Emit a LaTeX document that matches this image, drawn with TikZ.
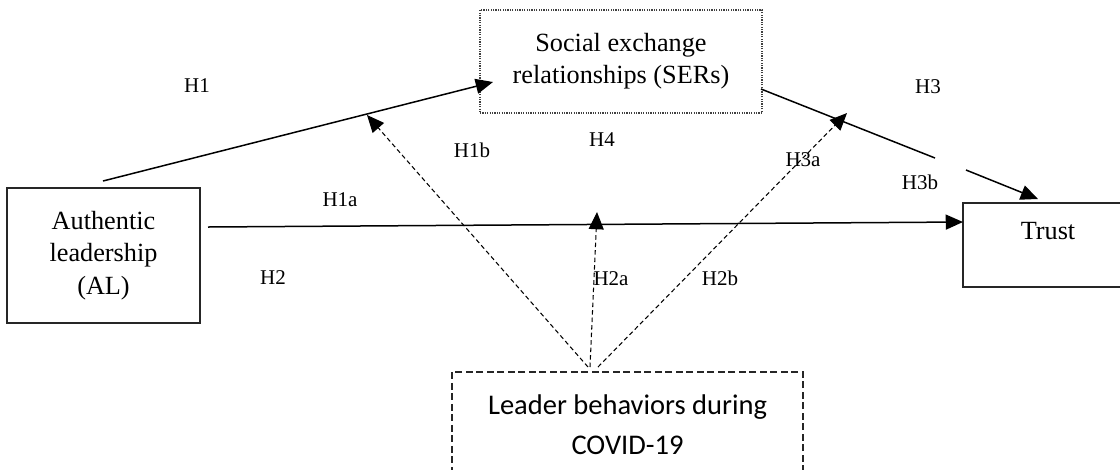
\documentclass[tikz,border=0pt]{standalone}
\usepackage{fontspec}
\setmainfont{Liberation Serif}
\newfontfamily\calibri{Carlito}
\usetikzlibrary{arrows.meta}

\begin{document}
\begin{tikzpicture}[
	x=0.6667pt, y=-0.6667pt,
	box/.style={rectangle, draw=black!85, line width=1pt, align=center, inner sep=0pt, font=\fontsize{17.5}{21.5}\selectfont},
	dotbox/.style={box, draw=black!75, line width=0.8pt, dash pattern=on 0.8pt off 0.8pt},
	dashbox/.style={box, dash pattern=on 4.5pt off 2.5pt, font=\calibri\fontsize{19}{26.7}\selectfont},
	hyp/.style={font=\fontsize{14}{16}\selectfont, inner sep=0pt},
	link/.style={line width=1pt, -{Triangle[length=11.5pt,width=10pt]}},
	moderate/.style={link, line width=0.7pt, dash pattern=on 3pt off 2pt},
	]
	\path[use as bounding box, clip] (0,0) rectangle (1120,469);
	
	\node [dotbox, minimum width=188pt, minimum height=68.7pt] (ser) at (621,61.5) {Social exchange\\relationships (SERs)};
	\node [box, minimum width=128.7pt, minimum height=90pt] (al) at (103.5,255.5) {Authentic\\leadership\\(AL)};
	\node [box, minimum width=113.3pt, text height=24pt, text depth=32pt] (trust) at (1048,245) {Trust};
	\node [dashbox, minimum width=234pt, minimum height=70.7pt] (leader) at (627.5,425) {Leader behaviors during\\COVID-19};
	
	\coordinate (h1s) at (103,181);
	\coordinate (h1e) at (493,82);
	\coordinate (h1as) at (208,227);
	\coordinate (h1ae) at (963,222);
	\coordinate (h3s) at (761,89);
	\coordinate (h3m) at (935,158);
	\coordinate (h3n) at (966,170);
	\coordinate (h3e) at (1038,199);
	\coordinate (ld1) at (588,367);
	\coordinate (ld2) at (590,367);
	\coordinate (ld3) at (598,367);
	\coordinate (h1bt) at (367,115);
	\coordinate (h2at) at (597,212);
	\coordinate (h3at) at (847,113);
	
	\draw [link] (h1s) -- (h1e);
	\draw [link] (h1as) -- (h1ae);
	\draw [line width=1pt] (h3s) -- (h3m);
	\draw [link] (h3n) -- (h3e);
	\draw [moderate] (ld1) -- (h1bt);
	\draw [moderate] (ld2) -- (h2at);
	\draw [moderate] (ld3) -- (h3at);
	
	\node [hyp] (h1) at (197,86) {H1};
	\node [hyp] (h1a) at (340,200) {H1a};
	\node [hyp] (h1b) at (472,150) {H1b};
	\node [hyp] (h2) at (273,278) {H2};
	\node [hyp] (h2a) at (611,279) {H2a};
	\node [hyp] (h2b) at (720,278) {H2b};
	\node [hyp] (h3) at (928,87) {H3};
	\node [hyp] (h3a) at (803,160) {H3a};
	\node [hyp] (h3b) at (920,182) {H3b};
	\node [hyp] (h4) at (602,140) {H4};
\end{tikzpicture}
\end{document}
